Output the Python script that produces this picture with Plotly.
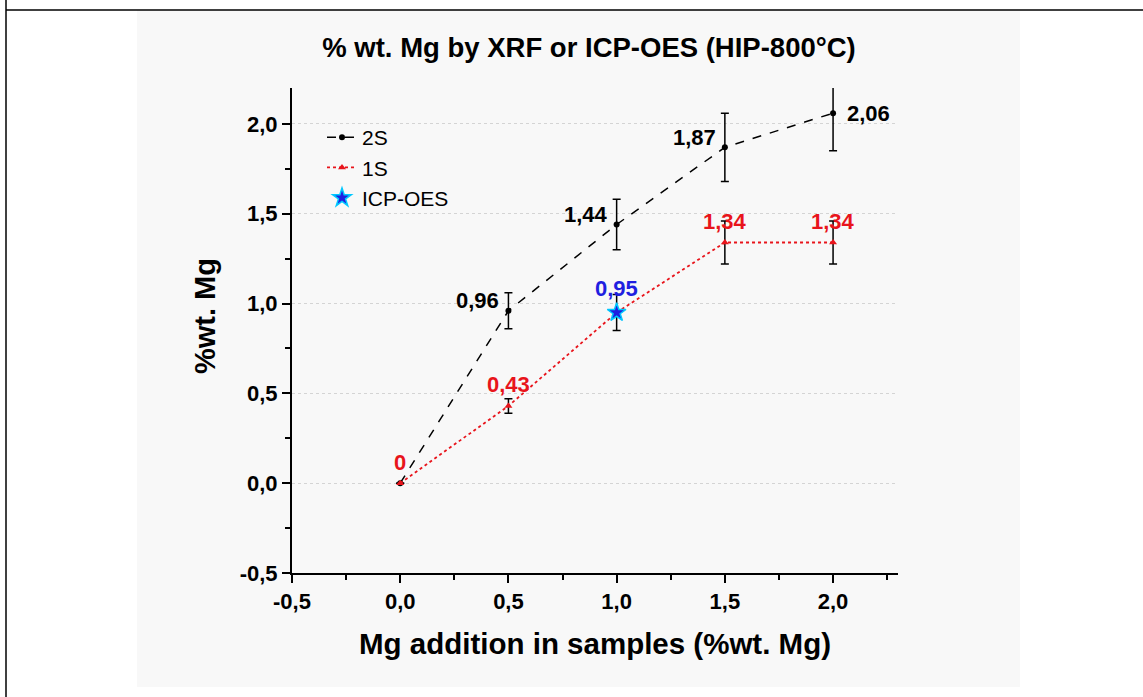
import plotly.graph_objects as go

# data
mg_added = [0.0, 0.5, 1.0, 1.5, 2.0]
s2_vals = [0.0, 0.96, 1.44, 1.87, 2.06]
s2_err = [0.0, 0.10, 0.14, 0.19, 0.21]
s1_vals = [0.0, 0.43, 0.95, 1.34, 1.34]
s1_err = [0.0, 0.04, 0.10, 0.12, 0.12]
icp_x = [1.0]
icp_vals = [0.95]

s2_labels = ["", "0,96", "1,44", "1,87", "2,06"]
s1_labels = ["0", "0,43", "", "1,34", "1,34"]
icp_labels = ["0,95"]

x_ticks = [-0.5, 0.0, 0.5, 1.0, 1.5, 2.0]
x_ticktext = ["-0,5", "0,0", "0,5", "1,0", "1,5", "2,0"]
y_ticks = [-0.5, 0.0, 0.5, 1.0, 1.5, 2.0]
y_ticktext = ["-0,5", "0,0", "0,5", "1,0", "1,5", "2,0"]

FONT = "Arial, Liberation Sans, sans-serif"
RED = "#e8141b"
BLUE = "#1f1fe0"

fig = go.Figure()

fig.add_trace(go.Scatter(
    x=mg_added, y=s2_vals, name="2S", mode="lines+markers",
    line=dict(color="black", dash="dash", width=1.5),
    marker=dict(color="black", size=6, symbol="circle"),
    error_y=dict(type="data", array=s2_err, color="black", thickness=1.5, width=4),
))
fig.add_trace(go.Scatter(
    x=mg_added, y=s1_vals, name="1S", mode="lines+markers",
    line=dict(color=RED, dash="dot", width=1.8),
    marker=dict(color=RED, size=7, symbol="triangle-up"),
    error_y=dict(type="data", array=s1_err, color="black", thickness=1.5, width=4),
))
fig.add_trace(go.Scatter(
    x=icp_x, y=icp_vals, name="ICP-OES", mode="markers",
    marker=dict(color=BLUE, size=14, symbol="star", line=dict(color="#00c8ff", width=1.5)),
))

# point labels
for x, y, t in zip(mg_added, s2_vals, s2_labels):
    if not t:
        continue
    right = x >= 2.0
    fig.add_annotation(x=x, y=y, text=t, showarrow=False,
                       xanchor="left" if right else "right",
                       xshift=12 if right else -7, yshift=0 if right else 10,
                       font=dict(family=FONT, size=22, color="black", weight="bold"))
for x, y, t in zip(mg_added, s1_vals, s1_labels):
    if not t:
        continue
    fig.add_annotation(x=x, y=y, text=t, showarrow=False, yshift=21,
                       font=dict(family=FONT, size=22, color=RED, weight="bold"))
for x, y, t in zip(icp_x, icp_vals, icp_labels):
    fig.add_annotation(x=x, y=y, text=t, showarrow=False, yshift=24,
                       font=dict(family=FONT, size=22, color=BLUE, weight="bold"))

# background panel and frame lines
W, H = 1143, 697
L, R, T, B = 292, 898, 88, 573
pw, ph = R - L, B - T


def px(xp):
    return (xp - L) / pw


def py(yp):
    return (B - yp) / ph


fig.add_shape(type="rect", xref="paper", yref="paper",
              x0=px(137), x1=px(1020), y0=py(687), y1=py(10),
              fillcolor="#f8f8f8", line=dict(width=0), layer="below")
fig.add_shape(type="line", xref="paper", yref="paper",
              x0=px(6), x1=px(1143), y0=py(10), y1=py(10),
              line=dict(color="black", width=1.5))
fig.add_shape(type="line", xref="paper", yref="paper",
              x0=px(6), x1=px(6), y0=py(0), y1=py(697),
              line=dict(color="black", width=1.5))

# y axis title placed as annotation (sits above plot centre in the original)
fig.add_annotation(xref="paper", yref="paper", x=px(205), y=py(316), text="%wt. Mg",
                   textangle=-90, showarrow=False, xanchor="center", yanchor="middle",
                   font=dict(family=FONT, size=29, color="black", weight="bold"))

fig.update_layout(
    width=W, height=H,
    margin=dict(l=L, r=W - R, t=T, b=H - B),
    paper_bgcolor="white", plot_bgcolor="rgba(0,0,0,0)",
    font=dict(family=FONT, color="black"),
    title=dict(text="% wt. Mg by XRF or ICP-OES (HIP-800°C)", x=589 / W, xanchor="center",
               xref="container", y=1 - 47 / H, yanchor="middle", yref="container",
               font=dict(size=27.5, weight="bold")),
    legend=dict(x=px(322), y=py(117), xanchor="left", yanchor="top",
                bgcolor="rgba(0,0,0,0)", font=dict(size=21), tracegroupgap=0,
                itemwidth=30),
    showlegend=True,
)
fig.update_xaxes(
    range=[-0.5, 2.3], tickvals=x_ticks, ticktext=x_ticktext,
    showline=True, linecolor="black", linewidth=2, showgrid=False, zeroline=False,
    ticks="outside", ticklen=8, tickwidth=2, tickcolor="black",
    minor=dict(ticks="outside", ticklen=5, tickwidth=2, tickcolor="black", dtick=0.25, tick0=0, showgrid=False),
    tickfont=dict(size=22, weight="bold"),
    title=dict(text="Mg addition in samples (%wt. Mg)", font=dict(size=29.5, weight="bold"), standoff=20),
)
fig.update_yaxes(
    range=[-0.5, 2.2], tickvals=y_ticks, ticktext=y_ticktext,
    showline=True, linecolor="black", linewidth=2, zeroline=False,
    showgrid=True, gridcolor="#d4d4d4", griddash="dot", gridwidth=1,
    ticks="outside", ticklen=8, tickwidth=2, tickcolor="black",
    minor=dict(ticks="outside", ticklen=5, tickwidth=2, tickcolor="black", dtick=0.25, tick0=0, showgrid=False),
    tickfont=dict(size=22, weight="bold"),
)

fig.write_html("out.html", config={"displayModeBar": False},
               post_script="document.body.style.margin='0';")
